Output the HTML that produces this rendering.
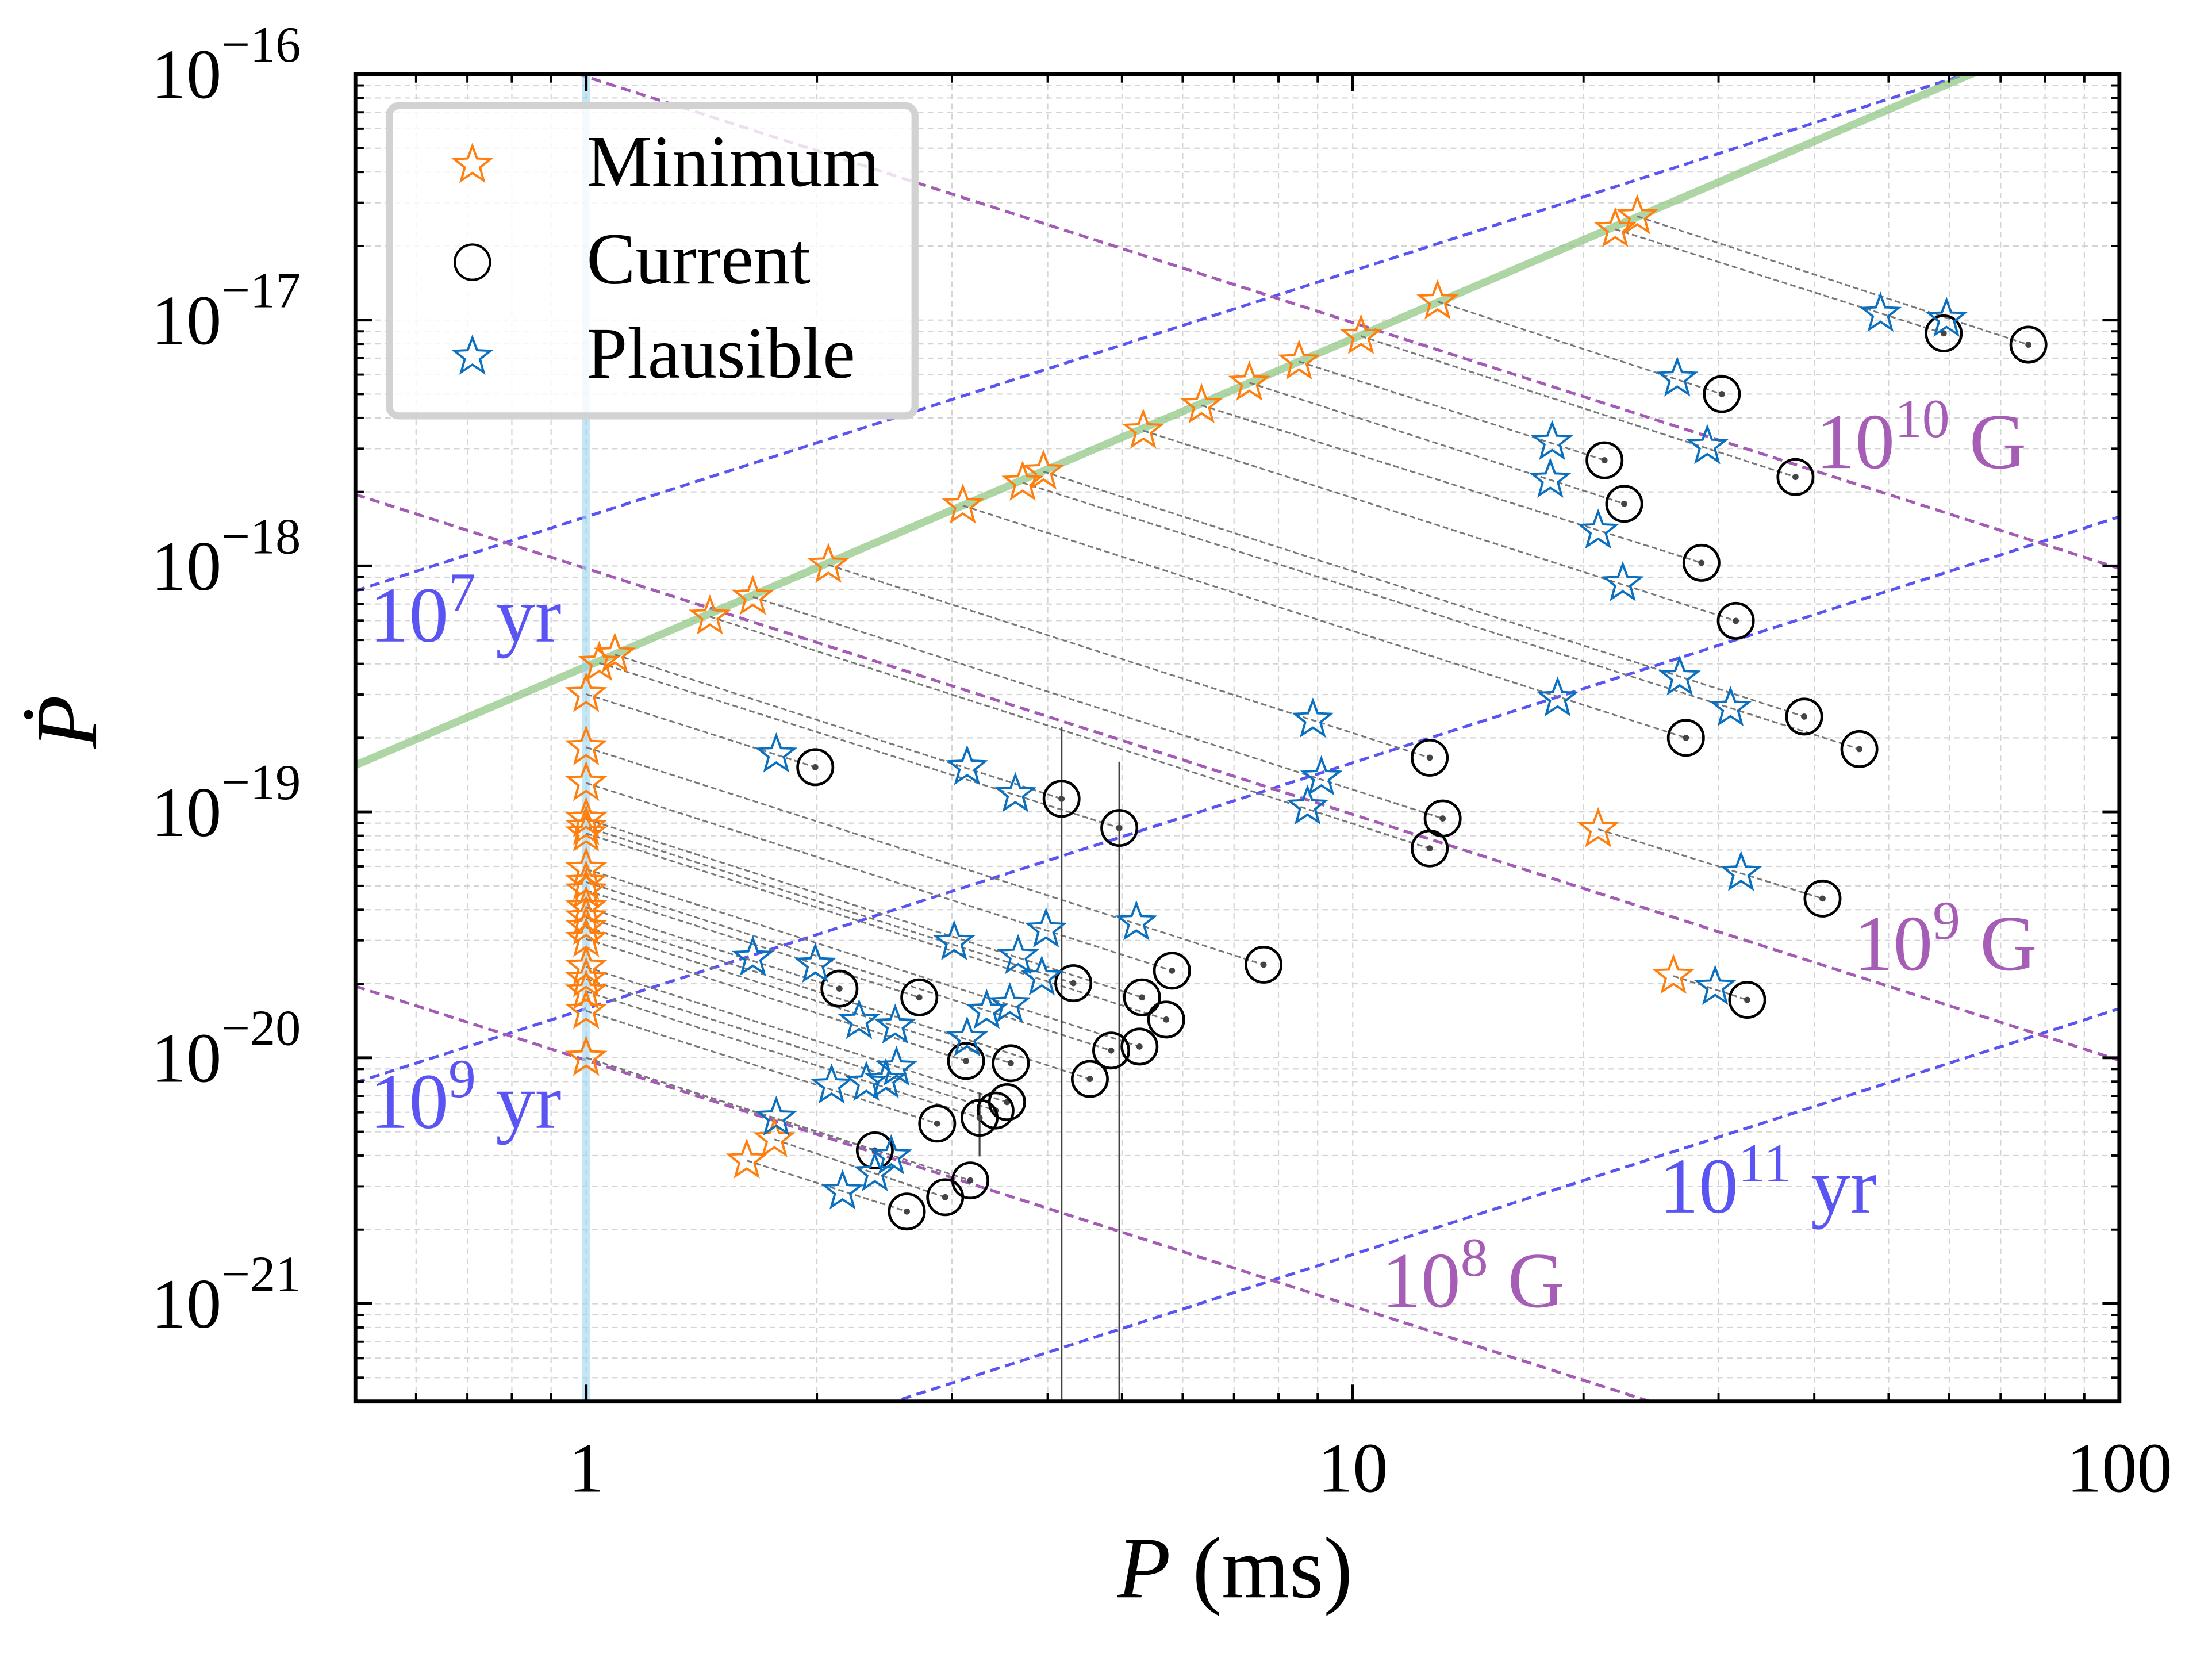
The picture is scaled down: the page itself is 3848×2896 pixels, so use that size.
<!DOCTYPE html>
<html><head><meta charset="utf-8">
<style>
html,body{margin:0;padding:0;background:#fff;}
svg{display:block;}
text{font-family:"Liberation Serif",serif;}
</style></head>
<body>
<svg id="chart" xmlns="http://www.w3.org/2000/svg" width="3848" height="2896" viewBox="0 0 1569 1181">
<rect x="0" y="0" width="1569" height="1181" fill="#fff"/>
<g id="grid"></g>
<g id="reflines"></g>
<g id="connectors"></g>
<g id="errbars"></g>
<g id="marks"></g>
<g id="annots"></g>
<g id="legend"></g>
<g id="axes"></g>
</svg>
<script>
// ---- data ----
const minP  = [23.5,22.0,12.9,10.25,8.51,7.33,6.35,5.33,3.95,3.71,3.10,2.07,1.65,1.45,1.09,1.04,1,20.9,26.2,1,1,1,1,1,1,1,1,1,1,1,1,1,1,1,1,1,1,1.76,1.62];
const minPd = [2.64e-17,2.34e-17,1.19e-17,8.6e-18,6.78e-18,5.56e-18,4.50e-18,3.55e-18,2.42e-18,2.18e-18,1.76e-18,1.01e-18,7.48e-19,6.22e-19,4.36e-19,4.03e-19,3.01e-19,8.5e-20,2.15e-20,1.83e-19,1.31e-19,9.35e-20,8.17e-20,8.68e-20,5.85e-20,5.18e-20,3.72e-20,3.40e-20,3.04e-20,2.34e-20,2.09e-20,1.86e-20,1.55e-20,4.79e-20,4.09e-20,1.0e-20,1.0e-20,4.66e-21,3.82e-21];
const curP  = [76.1,59.0,30.3,37.8,21.3,22.6,28.5,31.6,38.8,45.8,27.2,12.6,13.1,12.6,4.17,4.96,1.99,41.0,32.7,7.65,5.81,5.31,5.71,4.32,5.27,4.84,4.54,3.58,3.13,3.54,3.42,3.26,2.87,2.72,2.14,2.38,3.17,2.94,2.62];
const curPd = [7.94e-18,8.83e-18,5.0e-18,2.30e-18,2.69e-18,1.79e-18,1.03e-18,5.98e-19,2.44e-19,1.80e-19,2.00e-19,1.66e-19,9.4e-20,7.1e-20,1.13e-19,8.6e-20,1.52e-19,4.44e-20,1.72e-20,2.39e-20,2.26e-20,1.76e-20,1.43e-20,2.01e-20,1.11e-20,1.07e-20,8.2e-21,9.5e-21,9.7e-21,6.6e-21,6.1e-21,5.7e-21,5.4e-21,1.76e-20,1.91e-20,4.2e-21,3.17e-21,2.71e-21,2.37e-21];
const plaP  = [59.5,48.8,26.5,29.0,18.2,18.1,20.9,22.5,26.7,31.1,18.5,8.87,9.10,8.73,3.14,3.63,1.77,32.1,29.7,5.22,3.98,3.66,3.93,3.02,3.57,3.33,3.14,2.53,2.27,2.54,2.46,2.32,2.09,1.99,1.65,1.77,2.50,2.38,2.16];
const plaPd = [1.01e-17,1.06e-17,5.78e-18,3.07e-18,3.19e-18,2.24e-18,1.39e-18,8.5e-19,3.52e-19,2.64e-19,2.89e-19,2.37e-19,1.38e-19,1.05e-19,1.52e-19,1.18e-19,1.71e-19,5.64e-20,1.94e-20,3.55e-20,3.32e-20,2.59e-20,2.12e-20,2.95e-20,1.65e-20,1.55e-20,1.20e-20,1.35e-20,1.41e-20,9.1e-21,8.1e-21,7.9e-21,7.7e-21,2.39e-20,2.55e-20,5.7e-21,3.97e-21,3.39e-21,2.86e-21];
const errP  = [4.17,4.96,3.26];
const errHi = [2.22e-19,1.6e-19,7.2e-21];
const errLo = [1e-22,1e-22,3.97e-21];
const xTickVals = [1,10,100];
const xTickLabels = ["1","10","100"];
const yTickExps = [-16,-17,-18,-19,-20,-21];
const ageYears = [1e7,1e9,1e11];
const ageLabels = ["7","9","11"];
const bFields = [1e8,1e9,1e10];
const bLabels = ["8","9","10"];
const spinupSlope = 4/3;
const spinupPdAt1ms = 3.9e-19;
const xMin = 0.5, xMax = 100, yMin = 4e-22, yMax = 1e-16;

// ---- axes ----
const L=252, R=1503.4, T=52.6, B=994.1;
const NS="http://www.w3.org/2000/svg";
const lg=Math.log10;
function X(p){return L+(lg(p)-lg(xMin))/(lg(xMax)-lg(xMin))*(R-L);}
function Y(pd){return T+(lg(yMax)-lg(pd))/(lg(yMax)-lg(yMin))*(B-T);}
function el(tag,attrs,parent){const e=document.createElementNS(NS,tag);for(const k in attrs)e.setAttribute(k,attrs[k]);parent.appendChild(e);return e;}
const gGrid=document.getElementById('grid'),gRef=document.getElementById('reflines'),gCon=document.getElementById('connectors'),
gErr=document.getElementById('errbars'),gM=document.getElementById('marks'),gAn=document.getElementById('annots'),
gLeg=document.getElementById('legend'),gAx=document.getElementById('axes');

const defs=el('defs',{},document.getElementById('chart'));
const cp=el('clipPath',{id:'plotclip'},defs);
el('rect',{x:L,y:T,width:R-L,height:B-T},cp);
[gGrid,gRef,gCon,gErr,gM].forEach(g=>g.setAttribute('clip-path','url(#plotclip)'));

const xMajor=[],xMinor=[];
for(let d=-1;d<=2;d++){for(let m=1;m<=9;m++){const v=m*Math.pow(10,d);if(v<xMin-1e-9||v>xMax+1e-9)continue;if(m===1)xMajor.push(v);else xMinor.push(v);}}
const yMajor=[],yMinor=[];
for(let d=-22;d<=-16;d++){for(let m=1;m<=9;m++){const v=m*Math.pow(10,d);if(v<yMin*0.999||v>yMax*1.001)continue;if(m===1)yMajor.push(v);else yMinor.push(v);}}

xMajor.concat(xMinor).forEach(v=>{
  const l=el('line',{x1:X(v),x2:X(v),y1:T,y2:B,stroke:'#d4d4d4','stroke-width':0.9,'stroke-dasharray':'4,3'},gGrid);
  
  
});
yMajor.concat(yMinor).forEach(v=>{
  const l=el('line',{x1:L,x2:R,y1:Y(v),y2:Y(v),stroke:'#d4d4d4','stroke-width':0.9,'stroke-dasharray':'4,3'},gGrid);
  
  
});

const yr=3.156e7;
ageYears.forEach((a,i)=>{
  const pd=p=>(p*1e-3)/(2*a*yr);
  const l=el('line',{x1:X(xMin),y1:Y(pd(xMin)),x2:X(xMax),y2:Y(pd(xMax)),stroke:'#5a55f2','stroke-width':2.1,'stroke-dasharray':'7,4'},gRef);
  
  
});
bFields.forEach((b,i)=>{
  const pd=p=>Math.pow(b/3.2e19,2)/(p*1e-3);
  const l=el('line',{x1:X(xMin),y1:Y(pd(xMin)),x2:X(xMax),y2:Y(pd(xMax)),stroke:'#a35bb3','stroke-width':2.1,'stroke-dasharray':'7,4'},gRef);
  
  
});
{
  const pd=p=>spinupPdAt1ms*Math.pow(p,spinupSlope);
  const l=el('line',{x1:X(xMin),y1:Y(pd(xMin)),x2:X(xMax),y2:Y(pd(xMax)),stroke:'#8cc57f','stroke-opacity':0.7,'stroke-width':5.5},gRef);
  
  
  const v=el('line',{x1:X(1),x2:X(1),y1:T,y2:B,stroke:'#9fd6ee','stroke-opacity':0.6,'stroke-width':6},gRef);
  
  
}

for(let i=0;i<curP.length;i++){
  const l=el('line',{x1:X(minP[i]),y1:Y(minPd[i]),x2:X(curP[i]),y2:Y(curPd[i]),stroke:'#777','stroke-width':1.2,'stroke-dasharray':'4,2.2'},gCon);
  
  
}
for(let i=0;i<errP.length;i++){
  const l=el('line',{x1:X(errP[i]),x2:X(errP[i]),y1:Y(errHi[i]),y2:Y(errLo[i]),stroke:'#444','stroke-width':1.3},gErr);
  
  
}

function starPath(cx,cy,r){
  let d='';const ri=r*0.42;
  for(let k=0;k<10;k++){const a=-Math.PI/2+k*Math.PI/5;const rr=k%2?ri:r;d+=(k?'L':'M')+(cx+rr*Math.cos(a)).toFixed(2)+','+(cy+rr*Math.sin(a)).toFixed(2);}
  return d+'Z';
}
for(let i=0;i<curP.length;i++){
  const c=el('circle',{cx:X(curP[i]),cy:Y(curPd[i]),r:12.5,fill:'none',stroke:'#000','stroke-width':1.9},gM);
  
  
  const d=el('circle',{cx:X(curP[i]),cy:Y(curPd[i]),r:2.2,fill:'#444'},gM);
  
  
}
for(let i=0;i<minP.length;i++){
  const s=el('path',{d:starPath(X(minP[i]),Y(minPd[i]),13.5),fill:'none',stroke:'#ff7f0e','stroke-width':1.6},gM);
  
  
}
for(let i=0;i<plaP.length;i++){
  const s=el('path',{d:starPath(X(plaP[i]),Y(plaPd[i]),13.5),fill:'none',stroke:'#0a6fbf','stroke-width':1.6},gM);
  
  
}

function supLabel(x,y,base,sup,unit,color,name){
  const t=el('text',{x:x,y:y,fill:color,'font-size':56},gAn);
  
  
  t.appendChild(document.createTextNode(base));
  const s=el('tspan',{dy:-22,'font-size':39},t);s.textContent=sup;
  const u=el('tspan',{dy:22,'font-size':56},t);u.textContent=' '+unit;
}
supLabel(1288,332,'10','10','G','#a55db5','label-1e10-gauss');
supLabel(1315,688,'10','9','G','#a55db5','label-1e9-gauss');
supLabel(980,927,'10','8','G','#a55db5','label-1e8-gauss');
supLabel(262,455,'10','7','yr','#5a55f2','label-1e7-yr');
supLabel(262,800,'10','9','yr','#5a55f2','label-1e9-yr');
supLabel(1177,860,'10','11','yr','#5a55f2','label-1e11-yr');

{
  const f=el('rect',{x:276,y:75,width:373,height:220,rx:7,fill:'#fff','fill-opacity':0.8,stroke:'#d2d2d2','stroke-width':5},gLeg);
  
  
  const rows=[['Minimum',117,'star','#ff7f0e'],['Current',186,'circle','#000'],['Plausible',253,'star','#0a6fbf']];
  rows.forEach(r=>{
    const g=el('g',{},gLeg);
    
    
    if(r[2]==='star')el('path',{d:starPath(335,r[1],13.5),fill:'none',stroke:r[3],'stroke-width':1.6},g);
    else el('circle',{cx:335,cy:r[1],r:12.5,fill:'none',stroke:'#000','stroke-width':1.7},g);
    const t=el('text',{x:416,y:r[1]+15,'font-size':52,fill:'#000'},g);t.textContent=r[0];
  });
}

{
  const sp=el('rect',{x:L,y:T,width:R-L,height:B-T,fill:'none',stroke:'#000','stroke-width':2.8},gAx);
  
  
  const tk=(x1,y1,x2,y2,w)=>el('line',{x1,y1,x2,y2,stroke:'#000','stroke-width':w},gAx);
  xMajor.forEach(v=>{tk(X(v),B,X(v),B-12,2);tk(X(v),T,X(v),T+12,2);});
  xMinor.forEach(v=>{tk(X(v),B,X(v),B-6,1.6);tk(X(v),T,X(v),T+6,1.6);});
  yMajor.forEach(v=>{tk(L,Y(v),L+12,Y(v),2);tk(R,Y(v),R-12,Y(v),2);});
  yMinor.forEach(v=>{tk(L,Y(v),L+6,Y(v),1.6);tk(R,Y(v),R-6,Y(v),1.6);});
  xTickVals.forEach((v,i)=>{
    const t=el('text',{x:X(v),y:1058,'text-anchor':'middle','font-size':50,fill:'#000'},gAx);
    
    
    t.textContent=xTickLabels[i];
  });
  yTickExps.forEach(e=>{
    const y=Y(Math.pow(10,e));
    const t=el('text',{x:107,y:y+17,'font-size':50,fill:'#000'},gAx);
    
    
    t.appendChild(document.createTextNode('10'));
    const s=el('tspan',{dy:-26,'font-size':36},t);s.textContent='\u2212'+Math.abs(e);
  });
  const xl=el('text',{x:876,y:1133,'text-anchor':'middle','font-size':62,fill:'#000'},gAx);
  
  
  const pi=el('tspan',{'font-style':'italic'},xl);pi.textContent='P';
  const ms=el('tspan',{},xl);ms.textContent=' (ms)';
  const yl=el('text',{x:0,y:0,'text-anchor':'middle','font-size':62,'font-style':'italic',fill:'#000',transform:'translate(68,512) rotate(-90)'},gAx);
  
  
  yl.textContent='P\u0307';
}
</script>
</body></html>
